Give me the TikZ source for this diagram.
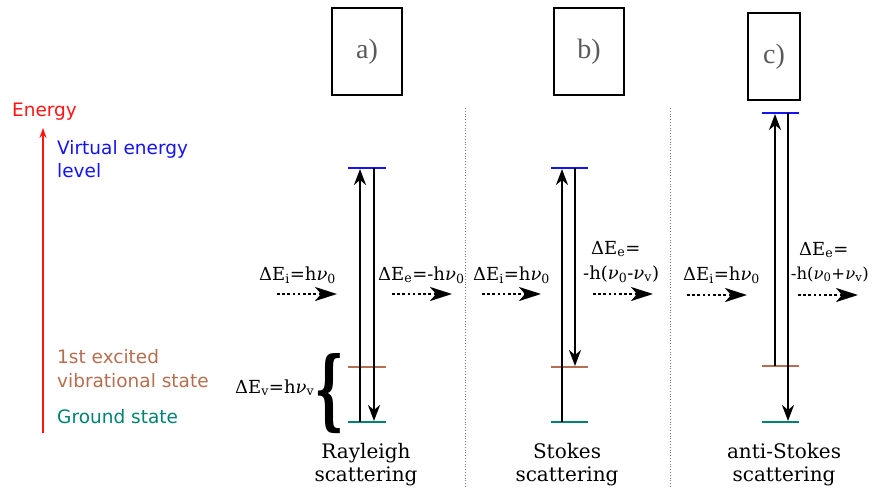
\documentclass[tikz,border=0pt]{standalone}
\usepackage{fontspec}
\usepackage{graphicx}
\setmainfont{DejaVu Serif}
\newfontfamily\labfont{DejaVu Sans}
\newfontfamily\boxfont{Liberation Serif}
\usetikzlibrary{arrows.meta}
\definecolor{virt}{RGB}{20,20,240}
\definecolor{exc}{RGB}{180,110,80}
\definecolor{gnd}{RGB}{0,130,115}
\definecolor{enr}{RGB}{255,20,20}
\definecolor{boxtxt}{RGB}{90,90,90}
\tikzset{
  lvl/.style={line width=2pt},
  trans/.style={line width=2pt,-{Stealth[length=16pt,width=12pt,inset=5pt]}},
  photon/.style={line width=2.6pt,dash pattern=on 2.6pt off 2.6pt,-{Stealth[length=22pt,width=14pt,inset=6pt]}},
  sep/.style={gray,dotted,line width=0.8pt},
  labbox/.style={draw,line width=1.2pt,minimum width=70pt,minimum height=87pt,inner sep=0pt,font=\boxfont\fontsize{28}{30}\selectfont,text=boxtxt},
  txt/.style={font=\fontsize{18}{20}\selectfont,inner sep=0pt,anchor=base west},
  side/.style={font=\labfont\fontsize{18.5}{22}\selectfont,inner sep=0pt,anchor=base west},
  captxt/.style={font=\fontsize{20}{22}\selectfont,inner sep=0pt,anchor=base}
}
\newcommand{\nusub}[1]{\textit{ν}\textsubscript{#1}}
\begin{document}
\begin{tikzpicture}[x=1pt,y=-1pt]
\useasboundingbox (0,0) rectangle (874,488);

% boxes
\node[labbox] (ba) at (367,51.5) {a)};
\node[labbox] (bb) at (589,51.5) {b)};
\node[labbox,minimum width=52pt] (bc) at (774,56.5) {c)};

% separators
\coordinate (s1t) at (465,108); \coordinate (s1b) at (465,488);
\coordinate (s2t) at (670,108); \coordinate (s2b) at (670,488);
\draw[sep] (s1t) -- (s1b);
\draw[sep] (s2t) -- (s2b);

% energy axis
\coordinate (eb) at (43,433); \coordinate (et) at (43,128);
\draw[enr,line width=1.2pt,-{Stealth[length=10pt,width=7pt]}] (eb) -- (et);
\node[side,anchor=base,text=enr] (en) at (44.5,116) {Energy};
\node[side,text=virt] (lv1) at (57,154) {Virtual energy};
\node[side,text=virt] (lv2) at (57,177) {level};
\node[side,text=exc] (le1) at (57,363) {1st excited};
\node[side,text=exc] (le2) at (57,387) {vibrational state};
\node[side,text=gnd] (lg) at (57,423) {Ground state};

% Rayleigh levels
\coordinate (rvl) at (348,168); \coordinate (rvr) at (386,168);
\coordinate (rel) at (348,367); \coordinate (rer) at (386,367);
\coordinate (rgl) at (348,422); \coordinate (rgr) at (386,422);
\draw[lvl,virt] (rvl) -- (rvr);
\draw[lvl,exc] (rel) -- (rer);
\draw[lvl,gnd] (rgl) -- (rgr);
\coordinate (ru0) at (360,422); \coordinate (ru1) at (360,169);
\coordinate (rd0) at (374,168); \coordinate (rd1) at (374,421);
\draw[trans] (ru0) -- (ru1);
\draw[trans] (rd0) -- (rd1);

% Stokes levels
\coordinate (svl) at (551,168); \coordinate (svr) at (588,168);
\coordinate (sel) at (551,367); \coordinate (ser) at (588,367);
\coordinate (sgl) at (551,422); \coordinate (sgr) at (588,422);
\draw[lvl,virt] (svl) -- (svr);
\draw[lvl,exc] (sel) -- (ser);
\draw[lvl,gnd] (sgl) -- (sgr);
\coordinate (su0) at (562,422); \coordinate (su1) at (562,169);
\coordinate (sd0) at (575,168); \coordinate (sd1) at (575,366);
\draw[trans] (su0) -- (su1);
\draw[trans] (sd0) -- (sd1);

% anti-Stokes levels
\coordinate (avl) at (762,113); \coordinate (avr) at (799,113);
\coordinate (ael) at (762,366); \coordinate (aer) at (799,366);
\coordinate (agl) at (762,422); \coordinate (agr) at (799,422);
\draw[lvl,virt] (avl) -- (avr);
\draw[lvl,exc] (ael) -- (aer);
\draw[lvl,gnd] (agl) -- (agr);
\coordinate (au0) at (775,366); \coordinate (au1) at (775,114);
\coordinate (ad0) at (788,113); \coordinate (ad1) at (788,421);
\draw[trans] (au0) -- (au1);
\draw[trans] (ad0) -- (ad1);

% brace
\node[inner sep=0pt] (brace) at (329,394) {\resizebox{30pt}{66pt}{\bfseries\{}};
\node[txt] (dev) at (235,393) {ΔE\textsubscript{v}=h\nusub{v}};

% photons
\coordinate (p1a) at (277,294); \coordinate (p1b) at (337,294);
\coordinate (p2a) at (392,294); \coordinate (p2b) at (452,294);
\coordinate (p3a) at (482,294); \coordinate (p3b) at (541,294);
\coordinate (p4a) at (593,294); \coordinate (p4b) at (653,294);
\coordinate (p5a) at (687,295); \coordinate (p5b) at (747,295);
\coordinate (p6a) at (798,295); \coordinate (p6b) at (858,295);
\draw[photon] (p1a) -- (p1b);
\draw[photon] (p2a) -- (p2b);
\draw[photon] (p3a) -- (p3b);
\draw[photon] (p4a) -- (p4b);
\draw[photon] (p5a) -- (p5b);
\draw[photon] (p6a) -- (p6b);

\node[txt] (t1) at (259,280) {ΔE\textsubscript{i}=h\nusub{0}};
\node[txt] (t2) at (378,280) {ΔE\textsubscript{e}=-h\nusub{0}};
\node[txt] (t3) at (473,280) {ΔE\textsubscript{i}=h\nusub{0}};
\node[txt] (t4a) at (591,254) {ΔE\textsubscript{e}=};
\node[txt] (t4b) at (583,279) {-h(\nusub{0}-\nusub{v})};
\node[txt] (t5) at (683,280) {ΔE\textsubscript{i}=h\nusub{0}};
\node[txt] (t6a) at (799,255) {ΔE\textsubscript{e}=};
\node[txt,anchor=base east,font=\fontsize{16.5}{20}\selectfont] (t6b) at (869,279) {-h(\nusub{0}+\nusub{v})};

% captions
\node[captxt] (c1a) at (366,458) {Rayleigh};
\node[captxt] (c1b) at (366,481) {scattering};
\node[captxt] (c2a) at (567,458) {Stokes};
\node[captxt] (c2b) at (567,481) {scattering};
\node[captxt] (c3a) at (784,458) {anti-Stokes};
\node[captxt] (c3b) at (784,481) {scattering};
\end{tikzpicture}
\end{document}
